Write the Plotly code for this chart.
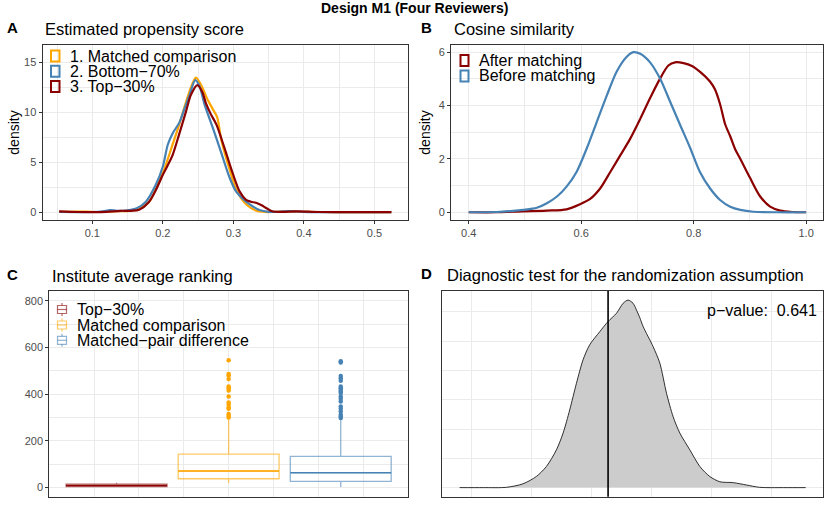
import plotly.graph_objects as go

W, H = 830, 508

# ---------------- Data ----------------
# Panel A: estimated propensity score densities
ps_x_matched = [0.053, 0.07, 0.09, 0.11, 0.13, 0.15, 0.165, 0.18, 0.19, 0.2, 0.207, 0.214, 0.223, 0.232,
                0.24, 0.247, 0.255, 0.263, 0.27, 0.277, 0.283, 0.295, 0.304, 0.318, 0.333, 0.345, 0.36,
                0.38, 0.4, 0.45, 0.5, 0.524]
ps_y_matched = [0.05, 0.05, 0.08, 0.03, 0.1, 0.12, 0.3, 1.0, 2.3, 3.9, 5.3, 6.8, 8.7, 10.8,
                12.5, 13.45, 12.6, 11.3, 10.4, 9.5, 7.2, 4.2, 2.3, 0.8, 0.15, 0.03, 0.05,
                0.1, 0.05, 0.02, 0.01, 0.01]

ps_x_bottom = [0.053, 0.08, 0.1, 0.115, 0.125, 0.135, 0.15, 0.163, 0.176, 0.19, 0.2, 0.207, 0.214, 0.223,
               0.231, 0.238, 0.246, 0.252, 0.259, 0.271, 0.283, 0.295, 0.304, 0.318, 0.337, 0.35, 0.365,
               0.378, 0.39, 0.41, 0.45, 0.5, 0.524]
ps_y_bottom = [0.03, 0.02, 0.03, 0.1, 0.22, 0.15, 0.2, 0.4, 1.06, 2.74, 4.57, 6.74, 7.9, 8.9,
               10.4, 11.75, 13.2, 12.6, 10.8, 8.4, 5.9, 3.4, 2.06, 1.06, 0.23, 0.05, 0.05,
               0.12, 0.08, 0.02, 0.01, 0.01, 0.01]

ps_x_top = [0.053, 0.08, 0.1, 0.12, 0.14, 0.155, 0.1665, 0.18, 0.19, 0.2, 0.207, 0.214, 0.223, 0.233,
            0.24, 0.249, 0.256, 0.261, 0.268, 0.276, 0.2875, 0.299, 0.309, 0.318, 0.325, 0.332, 0.34,
            0.347, 0.356, 0.37, 0.39, 0.42, 0.46, 0.5, 0.524]
ps_y_top = [0.1, 0.03, 0.02, 0.05, 0.15, 0.15, 0.25, 1.0, 2.2, 3.74, 4.7, 5.74, 7.75, 10.1,
            11.75, 12.7, 12.0, 10.9, 9.8, 8.75, 6.4, 3.9, 2.06, 1.25, 1.05, 0.95, 0.7,
            0.4, 0.08, 0.05, 0.1, 0.03, 0.01, 0.01, 0.01]

ps_names = ["1. Matched comparison", "2. Bottom\u221270%", "3. Top\u221230%"]

# Panel B: cosine similarity densities
cs_x_before = [0.4, 0.45, 0.479, 0.497, 0.521, 0.539, 0.557, 0.574, 0.592, 0.61, 0.628, 0.646, 0.663,
               0.681, 0.693, 0.705, 0.7225, 0.74, 0.758, 0.776, 0.794, 0.811, 0.829, 0.847, 0.865,
               0.883, 0.906, 0.95, 1.0]
cs_y_before = [0.0, 0.01, 0.05, 0.09, 0.17, 0.34, 0.59, 0.96, 1.52, 2.4, 3.4, 4.4, 5.27,
               5.83, 6.0, 5.94, 5.62, 5.02, 4.15, 3.27, 2.4, 1.52, 0.9, 0.46, 0.21,
               0.09, 0.02, 0.0, 0.0]

cs_x_after = [0.4, 0.45, 0.479, 0.539, 0.574, 0.598, 0.616, 0.634, 0.652, 0.67, 0.687, 0.705, 0.723,
              0.74, 0.755, 0.767, 0.782, 0.797, 0.812, 0.829, 0.838, 0.847, 0.856, 0.865, 0.874,
              0.883, 0.9, 0.918, 0.936, 0.954, 0.975, 1.0]
cs_y_after = [0.0, 0.0, 0.02, 0.06, 0.11, 0.3, 0.5, 0.9, 1.52, 2.15, 2.75, 3.5, 4.3,
              5.0, 5.5, 5.62, 5.59, 5.48, 5.25, 4.9, 4.6, 4.05, 3.3, 2.85, 2.35,
              2.0, 1.3, 0.6, 0.21, 0.06, 0.01, 0.0]

cs_names = ["After matching", "Before matching"]

# Panel C: institute average ranking (box statistics)
rank_groups = ["Top\u221230%", "Matched comparison", "Matched\u2212pair difference"]
rank_lowerfence = [1, 19, 2]
rank_q1 = [3, 37, 26]
rank_median = [8, 70, 63]
rank_q3 = [14, 143, 133]
rank_upperfence = [20, 292, 292]
rank_outliers = [
    [],
    [545, 486, 479, 465, 432, 425, 415, 389, 364, 354, 342, 337, 314, 307, 300],
    [541, 535, 477, 468, 457, 432, 425, 418, 411, 404, 389, 380, 368, 347, 337, 325, 311, 304, 297],
]

# Panel D: randomization test null distribution
rt_x = [-0.195, 0.2, 0.583, 0.86, 1.083, 1.25, 1.417, 1.528, 1.638, 1.75, 1.86, 1.97, 2.138, 2.277,
        2.417, 2.527, 2.61, 2.693, 2.75, 2.805, 2.86, 3.027, 3.138, 3.25, 3.36, 3.472, 3.638,
        3.805, 3.97, 4.138, 4.36, 4.58, 4.8, 5.2, 5.567]
rt_y = [0.0, 0.0, 0.01, 0.13, 0.38, 0.72, 1.29, 1.86, 2.65, 3.56, 4.36, 4.87, 5.32, 5.67,
        5.95, 6.29, 6.4, 6.29, 6.06, 5.8, 5.5, 4.81, 4.25, 3.22, 2.42, 1.86, 1.29,
        0.72, 0.38, 0.2, 0.17, 0.09, 0.01, 0.0, 0.0]
rt_observed = 2.277
p_value = 0.641

# ---------------- Styling ----------------
ORANGE = "#FFA500"
BLUE = "#4682B4"
RED = "#8B0000"
ORANGE_L = "rgba(255,165,0,0.6)"
BLUE_L = "rgba(70,130,180,0.6)"
RED_L = "rgba(139,0,0,0.6)"
FONT = "Liberation Sans, Arial, Helvetica, sans-serif"
GRID = "#EBEBEB"
BORDER = "#333333"
TICKC = "#4D4D4D"


def px_x(p):
    return p / W


def px_y(p):
    return 1 - p / H


fig = go.Figure()

# Panel A
for xs, ys, name, col in [(ps_x_matched, ps_y_matched, ps_names[0], ORANGE),
                          (ps_x_bottom, ps_y_bottom, ps_names[1], BLUE),
                          (ps_x_top, ps_y_top, ps_names[2], RED)]:
    fig.add_trace(go.Scatter(x=xs, y=ys, mode="lines", name=name, showlegend=False,
                             line=dict(color=col, width=2.2, shape="spline", smoothing=0.8),
                             xaxis="x", yaxis="y"))

# Panel B
for xs, ys, name, col in [(cs_x_after, cs_y_after, cs_names[0], RED),
                          (cs_x_before, cs_y_before, cs_names[1], BLUE)]:
    fig.add_trace(go.Scatter(x=xs, y=ys, mode="lines", name=name, showlegend=False,
                             line=dict(color=col, width=2.2, shape="spline", smoothing=0.8),
                             xaxis="x2", yaxis="y2"))

# Panel C
box_cols_full = [RED, ORANGE, BLUE]
box_cols_light = [RED_L, ORANGE_L, BLUE_L]
box_width = 0.225
for i, g in enumerate(rank_groups):
    pos = (i - 1) * 0.25
    fig.add_trace(go.Box(x=[pos], q1=[rank_q1[i]], median=[rank_median[i]], q3=[rank_q3[i]],
                         lowerfence=[rank_lowerfence[i]], upperfence=[rank_upperfence[i]],
                         width=box_width, whiskerwidth=0, boxpoints=False, name=g, showlegend=False,
                         line=dict(color=box_cols_light[i], width=1.3),
                         fillcolor="rgba(255,255,255,0)", xaxis="x3", yaxis="y3"))
    m = rank_median[i]
    fig.add_trace(go.Box(x=[pos], q1=[m], median=[m], q3=[m], lowerfence=[m], upperfence=[m],
                         width=box_width, whiskerwidth=0, boxpoints=False, showlegend=False,
                         line=dict(color=box_cols_full[i], width=1.5),
                         fillcolor="rgba(255,255,255,0)", xaxis="x3", yaxis="y3", hoverinfo="skip"))
    if rank_outliers[i]:
        fig.add_trace(go.Scatter(x=[pos] * len(rank_outliers[i]), y=rank_outliers[i], mode="markers",
                                 marker=dict(color=box_cols_full[i], size=4.5), showlegend=False,
                                 xaxis="x3", yaxis="y3"))

# Panel D
fig.add_trace(go.Scatter(x=rt_x, y=rt_y, mode="lines", fill="tozeroy", fillcolor="#CCCCCC",
                         line=dict(color="black", width=0.8, shape="spline", smoothing=0.8),
                         showlegend=False, xaxis="x4", yaxis="y4"))

fig.add_shape(type="line", xref="x4", yref="y4 domain", x0=rt_observed, x1=rt_observed, y0=0, y1=1,
              line=dict(color="black", width=1.6))

# ---------------- Axes ----------------
def axis_common(**kw):
    d = dict(showline=True, mirror=True, linecolor=BORDER, linewidth=1, zeroline=False,
             showgrid=True, gridcolor=GRID, gridwidth=1,
             tickfont=dict(size=11, color=TICKC, family=FONT), ticks="outside", ticklen=3,
             tickcolor=BORDER, tickwidth=1)
    d.update(kw)
    return d


layout_axes = dict(
    xaxis=axis_common(domain=[px_x(42.5), px_x(408)], anchor="y", range=[0.0294, 0.5476],
                      tickvals=[0.1, 0.2, 0.3, 0.4, 0.5],
                      minor=dict(dtick=0.05, tick0=0.05, showgrid=True, gridcolor=GRID, gridwidth=0.6)),
    yaxis=axis_common(domain=[px_y(220), px_y(45)], anchor="x", range=[-0.77, 16.7],
                      tickvals=[0, 5, 10, 15],
                      title=dict(text="density", font=dict(size=14, color="black", family=FONT), standoff=1),
                      minor=dict(dtick=2.5, tick0=0, showgrid=True, gridcolor=GRID, gridwidth=0.6)),
    xaxis2=axis_common(domain=[px_x(451), px_x(823)], anchor="y2", range=[0.3685, 1.030],
                       tickvals=[0.4, 0.6, 0.8, 1.0], tickformat=".1f",
                       minor=dict(dtick=0.1, tick0=0.4, showgrid=True, gridcolor=GRID, gridwidth=0.6)),
    yaxis2=axis_common(domain=[px_y(220), px_y(45)], anchor="x2", range=[-0.29, 6.27],
                       tickvals=[0, 2, 4, 6],
                       title=dict(text="density", font=dict(size=14, color="black", family=FONT), standoff=4),
                       minor=dict(dtick=1, tick0=0, showgrid=True, gridcolor=GRID, gridwidth=0.6)),
    xaxis3=axis_common(domain=[px_x(49.3), px_x(408)], anchor="y3", range=[-0.4, 0.4],
                       tick0=0, dtick=0.1, showticklabels=False, ticks=""),
    yaxis3=axis_common(domain=[px_y(496.7), px_y(291)], anchor="x3", range=[-39.8, 841.5],
                       tickvals=[0, 200, 400, 600, 800],
                       minor=dict(dtick=100, tick0=0, showgrid=True, gridcolor=GRID, gridwidth=0.6)),
    xaxis4=axis_common(domain=[px_x(442.3), px_x(823)], anchor="y4", range=[-0.483, 5.855],
                       tick0=0, dtick=1, showticklabels=False, ticks=""),
    yaxis4=axis_common(domain=[px_y(496.7), px_y(291)], anchor="x4", range=[-0.31, 6.71],
                       tick0=0, dtick=1, showticklabels=False, ticks=""),
)

# ---------------- Annotations (titles, tags, legends) ----------------
ann = []
ann.append(dict(text="<b>Design M1 (Four Reviewers)</b>", x=0.5, y=px_y(8.5), xref="paper", yref="paper",
                showarrow=False, xanchor="center", yanchor="middle", font=dict(size=14, color="black")))
for tag, tx, ty, title, ttx in [("A", 12, 27, "Estimated propensity score", 43.3),
                                ("B", 426.7, 27, "Cosine similarity", 451.5),
                                ("C", 12, 274.5, "Institute average ranking", 50),
                                ("D", 426.2, 273.5, "Diagnostic test for the randomization assumption", 444.5)]:
    ann.append(dict(text=f"<b>{tag}</b>", x=px_x(tx), y=px_y(ty), xref="paper", yref="paper",
                    showarrow=False, xanchor="center", yanchor="middle", font=dict(size=15, color="black")))
    ann.append(dict(text=title, x=px_x(ttx), y=px_y(ty + 1.5), xref="paper", yref="paper",
                    showarrow=False, xanchor="left", yanchor="middle", font=dict(size=16.5, color="black")))

ann.append(dict(text=f"p\u2212value:\u00a0 {p_value:.3f}", x=px_x(818.5), y=px_y(310), xref="paper",
                yref="paper", showarrow=False, xanchor="right", yanchor="middle",
                font=dict(size=16, color="black")))

shapes = []

# Legend A
for name, col, cy in zip(ps_names, [ORANGE, BLUE, RED], [56, 71.3, 86.6]):
    shapes.append(dict(type="rect", xref="paper", yref="paper", x0=px_x(51), x1=px_x(59.5),
                       y0=px_y(cy + 5.5), y1=px_y(cy - 5.5), line=dict(color=col, width=2),
                       fillcolor="rgba(0,0,0,0)"))
    ann.append(dict(text=name, x=px_x(67.5), y=px_y(cy), xref="paper", yref="paper", showarrow=False,
                    xanchor="left", yanchor="middle", font=dict(size=16, color="black")))

# Legend B
for name, col, cy in zip(cs_names, [RED, BLUE], [60.5, 76]):
    shapes.append(dict(type="rect", xref="paper", yref="paper", x0=px_x(460.5), x1=px_x(468.5),
                       y0=px_y(cy + 5.5), y1=px_y(cy - 5.5), line=dict(color=col, width=2),
                       fillcolor="rgba(0,0,0,0)"))
    ann.append(dict(text=name, x=px_x(476.5), y=px_y(cy), xref="paper", yref="paper", showarrow=False,
                    xanchor="left", yanchor="middle", font=dict(size=16, color="black")))

# Legend C (boxplot keys)
for name, col, cy in zip(rank_groups, box_cols_light, [309.5, 325, 340.3]):
    x0, x1, xc = 57.5, 66.5, 62
    shapes.append(dict(type="rect", xref="paper", yref="paper", x0=px_x(x0), x1=px_x(x1),
                       y0=px_y(cy + 4), y1=px_y(cy - 4), line=dict(color=col, width=1.2),
                       fillcolor="rgba(0,0,0,0)"))
    shapes.append(dict(type="line", xref="paper", yref="paper", x0=px_x(x0), x1=px_x(x1),
                       y0=px_y(cy), y1=px_y(cy), line=dict(color=col, width=1.2)))
    shapes.append(dict(type="line", xref="paper", yref="paper", x0=px_x(xc), x1=px_x(xc),
                       y0=px_y(cy - 4), y1=px_y(cy - 6.5), line=dict(color=col, width=1.2)))
    shapes.append(dict(type="line", xref="paper", yref="paper", x0=px_x(xc), x1=px_x(xc),
                       y0=px_y(cy + 4), y1=px_y(cy + 6.5), line=dict(color=col, width=1.2)))
    ann.append(dict(text=name, x=px_x(74.5), y=px_y(cy), xref="paper", yref="paper", showarrow=False,
                    xanchor="left", yanchor="middle", font=dict(size=16, color="black")))

fig.update_layout(
    width=W, height=H,
    margin=dict(l=0, r=0, t=0, b=0),
    paper_bgcolor="white", plot_bgcolor="white",
    font=dict(family=FONT, color="black"),
    showlegend=False,
    annotations=ann,
    **layout_axes,
)
for s in shapes:
    fig.add_shape(**s)

fig.write_html("out.html", config={"displayModeBar": False},
               post_script="document.body.style.margin='0px';document.body.style.padding='0px';")
